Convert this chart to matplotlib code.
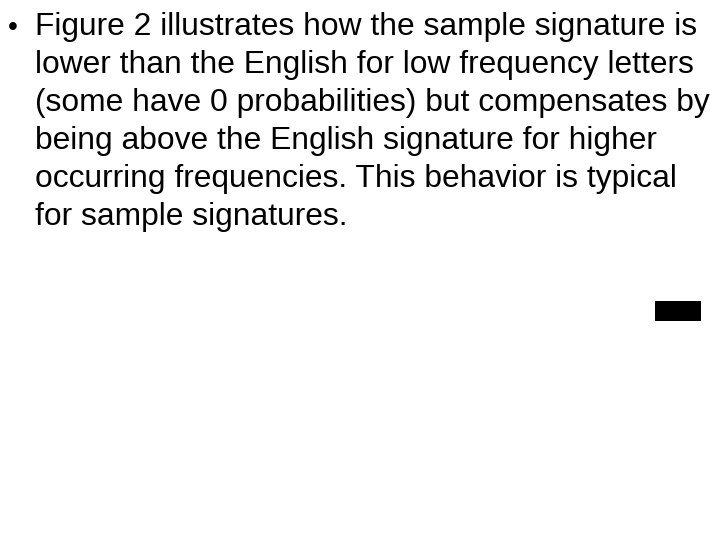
import matplotlib.pyplot as plt
from matplotlib.patches import Rectangle

# slide text, one entry per rendered line
lines = [
    "Figure 2 illustrates how the sample signature is",
    "lower than the English for low frequency letters",
    "(some have 0 probabilities) but compensates by",
    "being above the English signature for higher",
    "occurring frequencies. This behavior is typical",
    "for sample signatures.",
]

W, H = 720, 540
fig = plt.figure(figsize=(W / 100, H / 100), dpi=100)
fig.patch.set_facecolor("white")

font = dict(family=["Liberation Sans", "DejaVu Sans"], fontsize=22.9, color="black")

# bullet
fig.text(8 / W, 1 - 35 / H, "\u2022", va="baseline", ha="left",
         family=["Liberation Sans", "DejaVu Sans"], fontsize=20.2, color="black")

# text lines, baseline every 38 px
for i, line in enumerate(lines):
    y = 35 + 38 * i
    fig.text(35 / W, 1 - y / H, line, va="baseline", ha="left", **font)

# small black box on the right
fig.add_artist(Rectangle((655 / W, 1 - 321 / H), 46 / W, 20 / H,
                         transform=fig.transFigure, facecolor="black", edgecolor="none"))

fig.savefig("out.png", dpi=100)
plt.close(fig)
